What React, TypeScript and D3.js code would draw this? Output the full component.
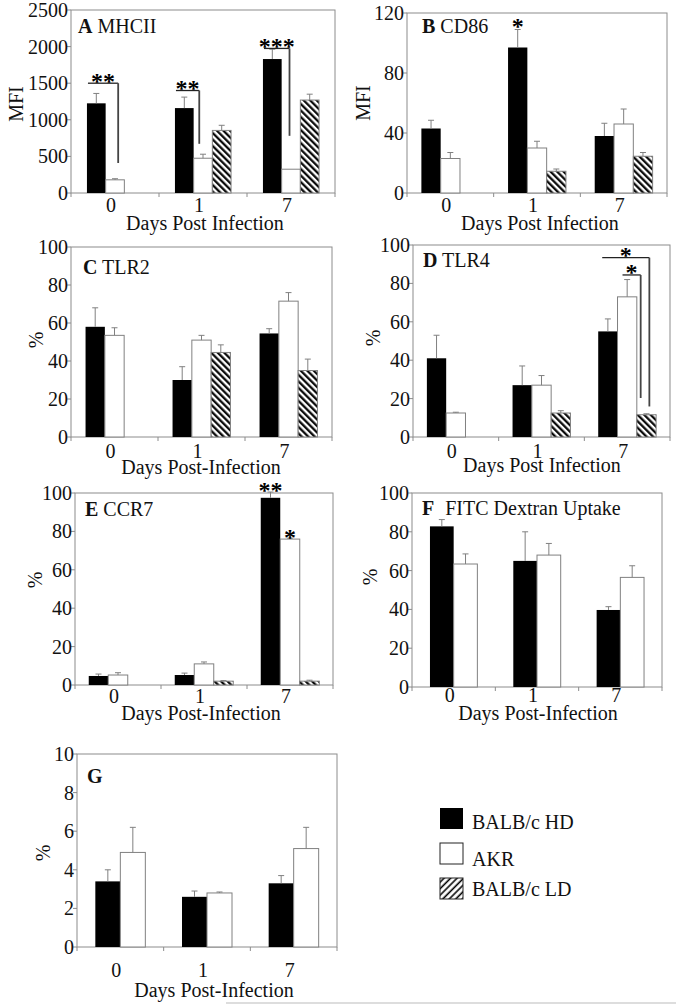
import React from "react";
import * as d3 from "d3";

// ---------- DATA ----------
const categories = ["0", "1", "7"];
const seriesNames = ["BALB/c HD", "AKR", "BALB/c LD"];

// A MHCII
const mhciiHD = [1225, 1160, 1830];
const mhciiHDErr = [135, 150, 135];
const mhciiAKR = [180, 475, 325];
const mhciiAKRErr = [15, 55, 0];
const mhciiLD = [null, 855, 1270];
const mhciiLDErr = [null, 70, 80];
const mhciiTicks = [0, 500, 1000, 1500, 2000, 2500];

// B CD86
const cd86HD = [43, 97, 38];
const cd86HDErr = [5.5, 12, 8.5];
const cd86AKR = [23, 30, 46];
const cd86AKRErr = [4, 4.5, 10];
const cd86LD = [null, 14.5, 24.5];
const cd86LDErr = [null, 1.5, 2.5];
const cd86Ticks = [0, 40, 80, 120];

// C TLR2
const tlr2HD = [58, 30, 54.5];
const tlr2HDErr = [10, 7, 2.5];
const tlr2AKR = [53.5, 51, 71.5];
const tlr2AKRErr = [4, 2.5, 4.5];
const tlr2LD = [null, 44.5, 35];
const tlr2LDErr = [null, 4, 6];

// D TLR4
const tlr4HD = [41, 27, 55];
const tlr4HDErr = [12, 10, 6.5];
const tlr4AKR = [12.5, 27, 73];
const tlr4AKRErr = [0.4, 5, 9];
const tlr4LD = [null, 12.5, 11.6];
const tlr4LDErr = [null, 1.2, 0.5];

// E CCR7
const ccr7HD = [4.7, 5.2, 97.5];
const ccr7HDErr = [1, 1, 3];
const ccr7AKR = [5.2, 11, 76];
const ccr7AKRErr = [1.2, 1, 0.5];
const ccr7LD = [null, 2, 2];
const ccr7LDErr = [null, 0.3, 0.5];

// F FITC Dextran Uptake
const fitcHD = [82.8, 65, 39.7];
const fitcHDErr = [3.5, 15, 1.7];
const fitcAKR = [63.4, 68, 56.5];
const fitcAKRErr = [5.2, 6, 6];

// G
const gHD = [3.4, 2.6, 3.3];
const gHDErr = [0.6, 0.3, 0.4];
const gAKR = [4.9, 2.8, 5.1];
const gAKRErr = [1.3, 0.05, 1.1];

const pctTicks = [0, 20, 40, 60, 80, 100];
const gTicks = [0, 2, 4, 6, 8, 10];

// significance annotations
const mhciiBrackets = [
  { group: 0, from: 0, to: 1, toFrac: 0.67, level: 1500, drop: 410, label: "**" },
  { group: 1, from: 0, to: 1, toFrac: 0.3, level: 1400, drop: 672, label: "**" },
  { group: 2, from: 0, to: 1, toFrac: 0.42, level: 1975, drop: 781, label: "***" },
];
const tlr4Brackets = [
  { group: 2, from: 0, fromOff: 4, to: 2, toFrac: 0.65, level: 93.4, drop: 15.9, label: "*" },
  { group: 2, from: 1, fromOff: 5, to: 2, toFrac: 0.2, level: 84.4, drop: 20.3, label: "*" },
];
const cd86Stars = [{ group: 1, series: 0, value: 113.5, label: "*" }];
const ccr7Stars = [
  { group: 2, series: 0, value: 103.3, label: "**" },
  { group: 2, series: 1, value: 79, label: "*" },
];

// ---------- LAYOUT / STYLE ----------
const FONT = "'Liberation Serif','Times New Roman',serif";
const AXIS = "#8c8c8c";
const FILLS = ["#000", "#fff", "url(#hatch)"];

type Panel = {
  letter: string;
  name: string;
  nameDx?: number;
  values: (number | null)[][];
  errors: (number | null)[][];
  ticks: number[];
  yLabel: string;
  xLabel: string;
  box: [number, number, number, number]; // left, top, right, bottom
  barW: number;
  title: [number, number];
  yLab: [number, number];
  xLab: [number, number];
  tickY: number;
  brackets?: any[];
  stars?: any[];
};

const panels: Panel[] = [
  {
    letter: "A", name: "MHCII",
    values: [mhciiHD, mhciiAKR, mhciiLD], errors: [mhciiHDErr, mhciiAKRErr, mhciiLDErr],
    ticks: mhciiTicks, yLabel: "MFI", xLabel: "Days Post Infection",
    box: [71, 10, 335, 193], barW: 18.7, title: [78, 33], yLab: [23, 104], xLab: [205, 230], tickY: 212,
    brackets: mhciiBrackets,
  },
  {
    letter: "B", name: "CD86",
    values: [cd86HD, cd86AKR, cd86LD], errors: [cd86HDErr, cd86AKRErr, cd86LDErr],
    ticks: cd86Ticks, yLabel: "MFI", xLabel: "Days Post Infection",
    box: [407, 13, 667, 193], barW: 19.3, title: [422, 33], yLab: [370, 103], xLab: [540, 230], tickY: 212,
    stars: cd86Stars,
  },
  {
    letter: "C", name: "TLR2",
    values: [tlr2HD, tlr2AKR, tlr2LD], errors: [tlr2HDErr, tlr2AKRErr, tlr2LDErr],
    ticks: pctTicks, yLabel: "%", xLabel: "Days Post-Infection",
    box: [71, 247, 332, 437], barW: 19.3, title: [83, 274], yLab: [43, 340], xLab: [201, 474], tickY: 458,
  },
  {
    letter: "D", name: "TLR4",
    values: [tlr4HD, tlr4AKR, tlr4LD], errors: [tlr4HDErr, tlr4AKRErr, tlr4LDErr],
    ticks: pctTicks, yLabel: "%", xLabel: "Days Post Infection",
    box: [413, 245, 670, 437], barW: 19.3, title: [423, 267], yLab: [380, 338], xLab: [542, 472], tickY: 458,
    brackets: tlr4Brackets,
  },
  {
    letter: "E", name: "CCR7",
    values: [ccr7HD, ccr7AKR, ccr7LD], errors: [ccr7HDErr, ccr7AKRErr, ccr7LDErr],
    ticks: pctTicks, yLabel: "%", xLabel: "Days Post-Infection",
    box: [75, 493, 333, 685], barW: 19.5, title: [85, 516], yLab: [42, 580], xLab: [201, 720], tickY: 703,
    stars: ccr7Stars,
  },
  {
    letter: "F", name: "FITC Dextran Uptake", nameDx: 6,
    values: [fitcHD, fitcAKR], errors: [fitcHDErr, fitcAKRErr],
    ticks: pctTicks, yLabel: "%", xLabel: "Days Post-Infection",
    box: [412, 493, 662, 687], barW: 23.7, title: [422, 515], yLab: [377, 577], xLab: [538, 720], tickY: 702,
  },
  {
    letter: "G", name: "",
    values: [gHD, gAKR], errors: [gHDErr, gAKRErr],
    ticks: gTicks, yLabel: "%", xLabel: "Days Post-Infection",
    box: [77, 754, 337, 947], barW: 25, title: [87, 783], yLab: [50, 853], xLab: [214, 997], tickY: 977,
  },
];

function PanelView({ p }: { p: Panel }) {
  const [L, T, R, B] = p.box;
  const x = d3.scaleBand<string>().domain(categories).range([L, R]).padding(0);
  const y = d3.scaleLinear().domain([0, p.ticks[p.ticks.length - 1]]).range([B, T]);
  const n = p.values.length;
  const barX = (g: number, s: number) =>
    (x(categories[g]) as number) + x.bandwidth() / 2 - (n * p.barW) / 2 + s * p.barW;
  const bounds = d3.range(categories.length + 1).map((i) => L + i * x.bandwidth());

  return (
    <g fontFamily={FONT}>
      {/* plot box */}
      <rect x={L} y={T} width={R - L} height={B - T} fill="none" stroke={AXIS} strokeWidth={1} />
      {/* y ticks */}
      {p.ticks.map((t) => (
        <g key={"yt" + t}>
          <line x1={L - 4} x2={L} y1={y(t)} y2={y(t)} stroke={AXIS} />
          <text x={L - 3} y={y(t) + 7} textAnchor="end" fontSize={20} fill="#111">
            {t}
          </text>
        </g>
      ))}
      {/* x ticks */}
      {bounds.map((bx, i) => (
        <line key={"xt" + i} x1={bx} x2={bx} y1={B} y2={B + 4} stroke={AXIS} />
      ))}
      {categories.map((c) => (
        <text key={"xl" + c} x={(x(c) as number) + x.bandwidth() / 2 - 4} y={p.tickY} textAnchor="middle" fontSize={20} fill="#111">
          {c}
        </text>
      ))}
      {/* bars */}
      {p.values.map((ser, s) =>
        ser.map((v, g) => {
          if (v == null) return null;
          const bx = barX(g, s);
          return (
            <rect
              key={`b${s}-${g}`}
              x={bx}
              y={y(v)}
              width={p.barW}
              height={B - y(v)}
              fill={FILLS[s]}
              stroke={s === 0 ? "#000" : "#808080"}
              strokeWidth={s === 0 ? 0 : 1}
            />
          );
        })
      )}
      {/* error bars */}
      {p.values.map((ser, s) =>
        ser.map((v, g) => {
          const e = p.errors[s][g];
          if (v == null || e == null || e <= 0) return null;
          const cx = barX(g, s) + p.barW / 2;
          return (
            <g key={`e${s}-${g}`} stroke="#808080" strokeWidth={1}>
              <line x1={cx} x2={cx} y1={y(v)} y2={y(v + e)} />
              <line x1={cx - 3} x2={cx + 3} y1={y(v + e)} y2={y(v + e)} />
            </g>
          );
        })
      )}
      {/* brackets */}
      {(p.brackets || []).map((b, i) => {
        const x1 = barX(b.group, b.from) + (b.fromOff ?? 1);
        const x2 = barX(b.group, b.to) + b.toFrac * p.barW;
        const yl = y(b.level);
        return (
          <g key={"br" + i}>
            <line x1={x1} x2={x2} y1={yl} y2={yl} stroke="#222" strokeWidth={1.3} />
            <line x1={x2} x2={x2} y1={yl} y2={y(b.drop)} stroke="#444" strokeWidth={1.8} />
            <text x={(x1 + x2) / 2} y={yl - 6 + 11.5} textAnchor="middle" fontSize={24} fontWeight="bold" fill="#000">
              {b.label}
            </text>
          </g>
        );
      })}
      {/* stars on bars */}
      {(p.stars || []).map((st, i) => (
        <text
          key={"st" + i}
          x={barX(st.group, st.series) + p.barW / 2}
          y={y(st.value) + 11.5}
          textAnchor="middle"
          fontSize={24}
          fontWeight="bold"
          fill="#000"
        >
          {st.label}
        </text>
      ))}
      {/* title */}
      <text x={p.title[0]} y={p.title[1]} fontSize={20} fill="#111">
        <tspan fontWeight="bold">{p.letter}</tspan>
        {p.name ? <tspan dx={p.nameDx ?? 0}>{" " + p.name}</tspan> : null}
      </text>
      {/* axis labels */}
      <text
        transform={`translate(${p.yLab[0]},${p.yLab[1]}) rotate(-90)`}
        textAnchor="middle"
        fontSize={20}
        fill="#111"
      >
        {p.yLabel}
      </text>
      <text x={p.xLab[0]} y={p.xLab[1]} textAnchor="middle" fontSize={20} fill="#111">
        {p.xLabel}
      </text>
    </g>
  );
}

export default function App() {
  const legendY = [808, 843, 878];
  const legendText = [829, 866, 896];
  return (
    <svg width={676} height={1005} style={{ position: "absolute", left: 0, top: 0, background: "#fff" }}>
      <defs>
        <pattern id="hatch" patternUnits="userSpaceOnUse" width={4.6} height={4.6} patternTransform="rotate(-45)">
          <rect width={4.6} height={4.6} fill="#fff" />
          <line x1={1.2} y1={0} x2={1.2} y2={4.6} stroke="#000" strokeWidth={2.2} />
        </pattern>
        <pattern id="hatchL" patternUnits="userSpaceOnUse" width={4.6} height={4.6} patternTransform="rotate(45)">
          <rect width={4.6} height={4.6} fill="#fff" />
          <line x1={1.2} y1={0} x2={1.2} y2={4.6} stroke="#000" strokeWidth={1.6} />
        </pattern>
      </defs>
      <rect width={676} height={1005} fill="#fff" />
      {panels.map((p) => (
        <PanelView key={p.letter} p={p} />
      ))}
      {/* legend */}
      {seriesNames.map((s, i) => (
        <g key={s} fontFamily={FONT}>
          <rect
            x={440}
            y={legendY[i]}
            width={23}
            height={21}
            fill={i === 0 ? "#000" : i === 1 ? "#fff" : "url(#hatchL)"}
            stroke={i === 0 ? "none" : "#222"}
            strokeWidth={1}
          />
          <text x={472} y={legendText[i]} fontSize={20} fill="#111">
            {s}
          </text>
        </g>
      ))}
      <line x1={226} x2={676} y1={1003} y2={1003} stroke="#bbb" strokeWidth={1} />
    </svg>
  );
}
